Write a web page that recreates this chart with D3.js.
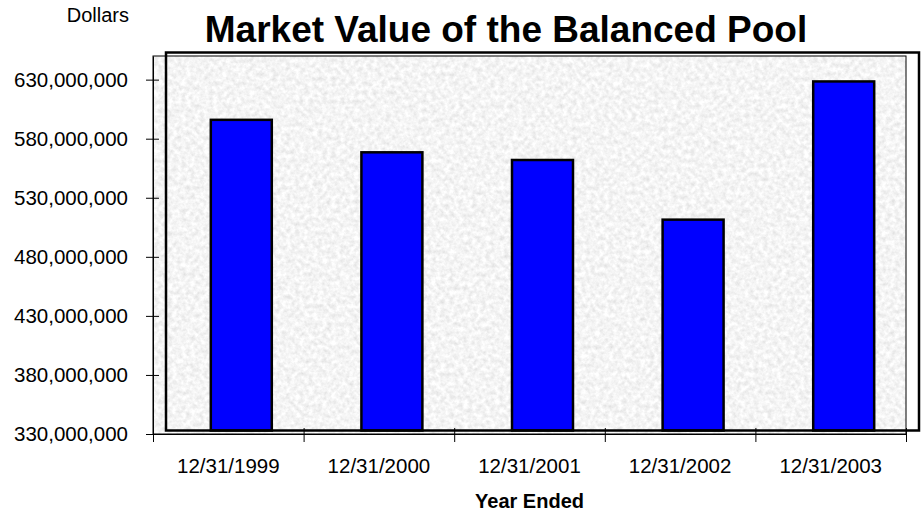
<!DOCTYPE html>
<html>
<head>
<meta charset="utf-8">
<script src="https://cdn.jsdelivr.net/npm/d3@7"></script>
<style>
  body { margin: 0; background: #fff; }
  text { font-family: "Liberation Sans", Arial, sans-serif; fill: #000; }
</style>
</head>
<body>
<script>
// data
const years = ["12/31/1999", "12/31/2000", "12/31/2001", "12/31/2002", "12/31/2003"];
const marketValues = [593000000, 565500000, 559000000, 508500000, 625500000];
const yTicks = [330000000, 380000000, 430000000, 480000000, 530000000, 580000000, 630000000];

const width = 923;
const height = 512;

// plot area (back wall) and offset of the front frame
const plotLeft = 153, plotRight = 906, plotTop = 56, plotBottom = 434;
const dx = 13, dy = -3.5;

const svg = d3.select("body")
    .append("svg")
    .attr("width", width)
    .attr("height", height);

// noise texture for the plot background
const defs = svg.append("defs");
const filt = defs.append("filter")
    .attr("id", "tex")
    .attr("x", 0).attr("y", 0)
    .attr("width", "100%").attr("height", "100%");
filt.append("feTurbulence")
    .attr("type", "fractalNoise")
    .attr("baseFrequency", 0.22)
    .attr("numOctaves", 3)
    .attr("seed", 7)
    .attr("result", "n");
filt.append("feColorMatrix")
    .attr("in", "n")
    .attr("type", "matrix")
    .attr("values", "0.4 0 0 0 0.71  0.4 0 0 0 0.71  0.4 0 0 0 0.71  0 0 0 0 1")
    .attr("result", "g");
filt.append("feComposite")
    .attr("in", "g")
    .attr("in2", "SourceGraphic")
    .attr("operator", "in");

const x = d3.scaleBand()
    .domain(years)
    .range([plotLeft, plotRight]);

const y = d3.scaleLinear()
    .domain([330000000, 650000000])
    .range([plotBottom, plotTop]);

// back wall
svg.append("rect")
    .attr("x", plotLeft)
    .attr("y", plotTop)
    .attr("width", plotRight - plotLeft)
    .attr("height", plotBottom - plotTop)
    .attr("fill", "#000")
    .attr("filter", "url(#tex)");

svg.append("rect")
    .attr("x", plotLeft)
    .attr("y", plotTop)
    .attr("width", plotRight - plotLeft)
    .attr("height", plotBottom - plotTop)
    .attr("fill", "none")
    .attr("stroke", "#000")
    .attr("stroke-width", 1);

// bars, drawn on the shifted front plane
const barW = x.bandwidth() * 0.405;
svg.append("g")
    .selectAll("rect")
    .data(marketValues)
    .join("rect")
    .attr("x", (d, i) => x(years[i]) + x.bandwidth() / 2 - barW / 2 + dx)
    .attr("y", d => y(d) + dy)
    .attr("width", barW)
    .attr("height", d => y(330000000) - y(d))
    .attr("fill", "#0000ff")
    .attr("stroke", "#000")
    .attr("stroke-width", 2.5);

// thick front frame
svg.append("rect")
    .attr("x", plotLeft + dx)
    .attr("y", plotTop + dy)
    .attr("width", plotRight - plotLeft)
    .attr("height", plotBottom - plotTop)
    .attr("fill", "none")
    .attr("stroke", "#000")
    .attr("stroke-width", 2.5);

// y axis
const yAxis = svg.append("g")
    .attr("transform", `translate(${plotLeft},0)`)
    .call(d3.axisLeft(y)
        .tickValues(yTicks)
        .tickFormat(d3.format(","))
        .tickSizeInner(7)
        .tickSizeOuter(0)
        .tickPadding(18));
yAxis.selectAll(".tick line").attr("x2", -7).attr("x1", 6);
yAxis.selectAll("text").style("font-size", "20.5px");
yAxis.select(".domain").attr("stroke-width", 1);

// x axis: boundary ticks + centred labels
const xb = d3.scaleLinear().domain([0, years.length]).range([plotLeft, plotRight]);
const xTicks = svg.append("g")
    .attr("transform", `translate(0,${plotBottom})`)
    .call(d3.axisBottom(xb)
        .tickValues(d3.range(years.length + 1))
        .tickFormat("")
        .tickSizeInner(8)
        .tickSizeOuter(0));
xTicks.selectAll(".tick line").attr("y1", -6);

const xLabels = svg.append("g")
    .attr("transform", `translate(0,${plotBottom})`)
    .call(d3.axisBottom(x).tickSize(0).tickPadding(24));
xLabels.select(".domain").remove();
xLabels.selectAll("text").style("font-size", "20.5px");

// titles
svg.append("text")
    .attr("x", 506)
    .attr("y", 42)
    .attr("text-anchor", "middle")
    .style("font-size", "37px")
    .style("font-weight", "bold")
    .text("Market Value of the Balanced Pool");

svg.append("text")
    .attr("x", 129)
    .attr("y", 22)
    .attr("text-anchor", "end")
    .style("font-size", "20px")
    .text("Dollars");

svg.append("text")
    .attr("x", (plotLeft + plotRight) / 2)
    .attr("y", 508)
    .attr("text-anchor", "middle")
    .style("font-size", "20px")
    .style("font-weight", "bold")
    .text("Year Ended");
</script>
</body>
</html>
